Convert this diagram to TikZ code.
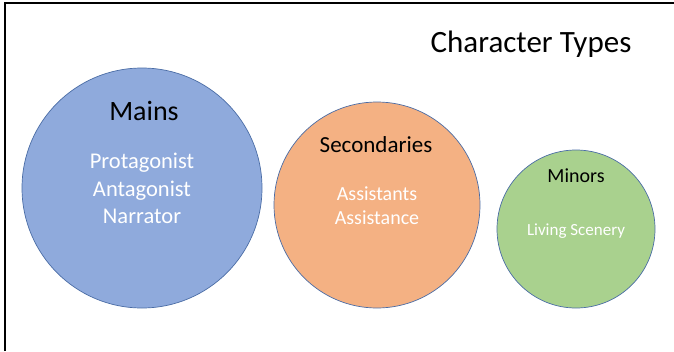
\documentclass[tikz,border=0pt]{standalone}
\usepackage{fontspec}
\setmainfont{Carlito}
\usepackage{xcolor}
\usepackage{tikz}

\definecolor{mainblue}{RGB}{143,170,220}
\definecolor{secorange}{RGB}{244,177,131}
\definecolor{mingreen}{RGB}{169,209,142}
\definecolor{rimblue}{RGB}{74,108,165}

\tikzset{
	group/.style = {circle, draw=rimblue, line width=0.7pt, inner sep=0pt},
	head/.style = {anchor=base, text=black},
	member/.style = {anchor=base, text=white},
}

\begin{document}
\begin{tikzpicture}[x=1pt,y=-1pt]
	\useasboundingbox (0,0) rectangle (674,351);
	% frame
	\coordinate (TL) at (5,3);
	\draw[line width=2pt] (TL |- 0,351) -- (TL) -- (674,3);
	\node [anchor=base, font=\fontsize{31}{37}\selectfont] (title) at (531,52) {Character Types};
	% the three groups
	\node [group, fill=mainblue, minimum size=240pt] (mains) at (142,188) {};
	\node [group, fill=secorange, minimum size=206pt] (secs) at (377,205) {};
	\node [group, fill=mingreen, minimum size=158pt] (minors) at (576,229) {};
	\node [head, font=\fontsize{28}{34}\selectfont] (mainsT) at (144,120) {Mains};
	\node [member, font=\fontsize{22.5}{27}\selectfont] (prot) at (142,168) {Protagonist};
	\node [member, font=\fontsize{22.5}{27}\selectfont] (anta) at (142,196) {Antagonist};
	\node [member, font=\fontsize{22.5}{27}\selectfont] (narr) at (142,223) {Narrator};
	\node [head, font=\fontsize{23}{28}\selectfont] (secsT) at (376,152) {Secondaries};
	\node [member, font=\fontsize{20}{24}\selectfont] (assts) at (377,200) {Assistants};
	\node [member, font=\fontsize{20}{24}\selectfont] (asstc) at (377,224) {Assistance};
	\node [head, font=\fontsize{20}{24}\selectfont] (minT) at (576,182) {Minors};
	\node [member, font=\fontsize{17}{20}\selectfont] (scen) at (576,235) {Living Scenery};
\end{tikzpicture}
\end{document}
